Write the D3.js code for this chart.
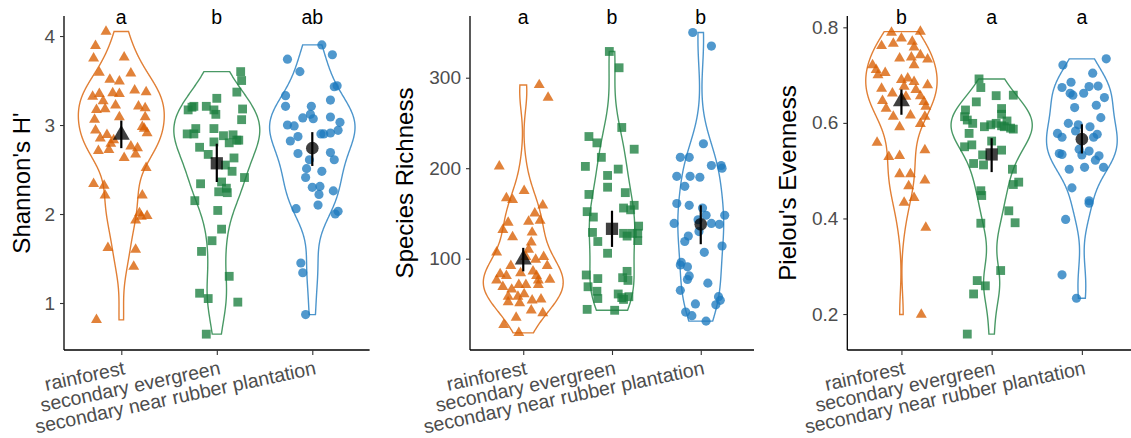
<!DOCTYPE html>
<html><head><meta charset="utf-8">
<script src="https://cdn.jsdelivr.net/npm/d3@7"></script>
<style>body{margin:0;background:#fff}svg{display:block}text{font-family:"Liberation Sans",Arial,sans-serif}</style>
</head><body><svg id="c" width="1131" height="438"></svg>
<script>
const groups = ["rainforest", "secondary evergreen", "secondary near rubber plantation"];
const colors = ["#D95F02", "#1B7F3F", "#1F7BBF"];

// Shannon's H'
const shRainVal = [4.05,3.89,3.75,3.76,3.59,3.51,3.49,3.58,3.39,3.37,3.32,3.35,3.36,3.35,3.27,3.22,3.21,3.19,3.17,3.18,3.09,3.06,3.09,2.98,2.96,2.94,2.91,2.85,2.89,2.83,2.72,2.71,2.76,2.74,2.67,2.63,2.79,2.52,2.34,2.32,2.21,2.21,2.01,1.98,1.93,1.97,1.62,1.60,1.41,0.81];
const shRainJit = [-0.16,-0.27,-0.29,0.03,-0.23,-0.12,-0.02,0.10,0.14,0.26,-0.30,-0.23,-0.09,-0.02,-0.19,-0.06,0.18,0.25,-0.26,-0.17,-0.02,-0.28,0.25,0.22,0.24,-0.27,0.27,-0.22,-0.15,-0.08,-0.13,-0.24,0.10,0.17,0.15,0.03,-0.11,0.26,-0.29,-0.18,-0.17,0.22,0.19,0.27,0.15,0.21,-0.14,0.15,0.13,-0.26];
const shEverVal = [3.60,3.50,3.37,3.30,3.17,3.20,3.21,3.21,3.17,3.12,3.18,3.06,2.96,2.90,2.90,2.96,2.88,2.89,2.83,2.80,2.83,2.81,2.75,2.67,2.63,2.55,2.48,2.41,2.34,2.36,2.25,2.29,2.24,2.15,2.04,1.83,1.70,1.58,1.30,1.11,1.05,1.01,0.65];
const shEverJit = [0.25,0.26,0.21,0.00,-0.30,-0.26,-0.24,-0.11,-0.03,-0.01,0.27,0.26,-0.22,-0.31,-0.24,-0.03,0.07,0.17,0.21,0.13,0.23,-0.03,-0.18,-0.09,0.18,0.09,0.16,0.29,-0.17,0.05,0.02,0.10,0.11,-0.23,0.01,0.05,-0.05,-0.16,0.13,-0.18,-0.09,0.22,-0.11];
const shRubVal = [3.90,3.79,3.74,3.60,3.43,3.44,3.33,3.28,3.21,3.21,3.12,3.08,3.07,3.09,3.00,2.99,3.03,2.94,2.90,2.90,2.91,2.87,2.82,2.69,2.68,2.61,2.61,2.51,2.48,2.41,2.30,2.31,2.22,2.26,2.10,2.03,2.00,2.06,1.45,1.34,0.87];
const shRubJit = [0.10,0.21,-0.26,-0.13,0.23,0.26,-0.28,0.19,-0.28,-0.01,-0.02,-0.10,0.01,0.19,-0.26,-0.19,0.29,0.27,0.09,0.12,0.19,-0.15,-0.23,0.19,-0.15,0.23,-0.03,-0.06,0.10,-0.07,0.00,0.08,0.07,0.22,0.06,0.27,0.24,-0.17,-0.12,-0.10,-0.07];
const shMean = [2.89, 2.57, 2.74];
const shLow = [2.74, 2.36, 2.54];
const shHigh = [3.05, 2.79, 2.92];
const shLetters = ["a", "b", "ab"];
const shTicks = [1, 2, 3, 4];

// Species Richness
const srRainVal = [292,278,202,175,167,165,159,150,142,141,140,132,124,129,107,118,110,99,102,92,92,83,81,81,77,76,69,66,71,71,71,58,58,61,54,55,51,52,43,40,35,27,18,102,84,86,76];
const srRainJit = [0.18,0.28,-0.27,0.01,-0.19,-0.12,0.22,0.13,0.19,0.06,-0.17,-0.23,-0.12,0.10,-0.30,0.09,0.06,0.14,0.23,0.27,-0.14,-0.26,-0.19,0.15,0.30,-0.30,-0.23,-0.13,-0.05,0.03,0.17,-0.17,-0.06,0.01,0.10,0.20,-0.04,-0.17,0.09,0.22,-0.08,-0.22,-0.05,0.03,-0.03,0.11,0.17];
const srEverVal = [329,311,245,235,228,221,212,202,199,192,179,171,173,152,146,156,154,159,136,129,119,128,125,128,120,106,82,78,69,64,56,86,76,79,61,57,58,44,43,55,128];
const srEverJit = [-0.03,0.08,0.11,-0.26,-0.17,0.25,-0.12,-0.30,0.07,-0.05,-0.05,-0.26,0.15,-0.28,-0.21,0.13,0.21,0.25,0.30,-0.22,-0.16,0.13,0.17,0.23,0.29,-0.05,-0.29,-0.16,-0.27,-0.17,-0.16,0.17,0.18,0.12,0.07,0.11,0.19,-0.28,0.03,0.13,0.29];
const srRubVal = [350,335,227,212,212,203,203,200,191,191,190,180,161,159,156,148,148,139,139,138,130,125,119,114,107,96,93,91,81,77,73,65,58,54,49,50,41,37,31,143];
const srRubJit = [-0.09,0.12,0.03,-0.23,-0.13,0.12,0.23,0.24,-0.27,-0.12,-0.01,-0.18,-0.27,-0.13,0.02,0.06,0.27,-0.30,0.12,0.21,-0.02,-0.14,-0.18,0.24,0.04,-0.22,-0.23,-0.15,-0.13,-0.15,0.08,-0.23,0.20,0.22,0.17,-0.06,-0.17,-0.10,0.06,-0.03];
const srMean = [99, 133, 138];
const srLow = [86, 113, 116];
const srHigh = [112, 153, 159];
const srLetters = ["a", "b", "b"];
const srTicks = [100, 200, 300];

// Pielou's Evenness
const peRainVal = [0.789,0.791,0.777,0.766,0.770,0.761,0.758,0.735,0.737,0.742,0.733,0.721,0.711,0.705,0.700,0.721,0.690,0.693,0.686,0.679,0.672,0.662,0.669,0.656,0.646,0.644,0.630,0.634,0.616,0.613,0.613,0.591,0.598,0.559,0.543,0.529,0.531,0.493,0.493,0.480,0.468,0.443,0.433,0.381,0.199,0.655,0.676];
const peRainJit = [-0.11,0.21,0.00,-0.09,0.12,-0.22,0.14,-0.02,0.11,0.21,0.29,-0.32,-0.28,-0.18,-0.26,0.14,0.00,0.07,0.14,0.29,-0.22,-0.10,0.16,0.21,-0.21,0.25,-0.17,0.27,0.10,-0.09,0.26,-0.02,0.21,-0.27,0.26,-0.14,-0.02,-0.02,0.10,0.26,0.08,0.14,0.03,0.27,0.22,0.05,0.03];
const peEverVal = [0.692,0.674,0.657,0.658,0.644,0.627,0.630,0.613,0.618,0.599,0.606,0.592,0.596,0.599,0.594,0.604,0.589,0.587,0.592,0.578,0.562,0.554,0.550,0.543,0.533,0.515,0.512,0.503,0.471,0.476,0.458,0.448,0.416,0.391,0.390,0.291,0.270,0.259,0.242,0.158];
const peEverJit = [-0.14,-0.12,0.05,0.24,-0.17,-0.29,0.11,-0.30,0.11,-0.21,-0.27,-0.08,-0.01,0.05,0.11,0.17,0.21,0.24,0.14,-0.25,0.00,-0.22,-0.30,0.11,-0.10,-0.20,-0.09,0.23,0.24,0.30,-0.12,-0.11,0.19,0.26,-0.12,0.10,-0.16,-0.07,-0.20,-0.27];
const peRubVal = [0.734,0.721,0.704,0.685,0.674,0.676,0.677,0.662,0.658,0.662,0.653,0.637,0.632,0.611,0.599,0.596,0.592,0.578,0.583,0.570,0.570,0.576,0.536,0.534,0.545,0.541,0.533,0.531,0.522,0.503,0.507,0.507,0.464,0.437,0.432,0.398,0.282,0.233];
const peRubJit = [0.27,-0.21,0.12,-0.12,-0.22,0.08,0.18,-0.13,-0.10,0.02,0.25,0.16,-0.08,0.21,-0.15,-0.04,0.09,-0.27,-0.07,-0.22,0.13,0.17,-0.25,-0.22,-0.03,0.08,0.00,0.19,0.15,-0.14,0.03,0.24,-0.11,0.08,0.08,-0.18,-0.22,-0.06];
const peMean = [0.645, 0.534, 0.566];
const peLow = [0.617, 0.497, 0.536];
const peHigh = [0.670, 0.568, 0.597];
const peLetters = ["b", "a", "a"];
const peTicks = [0.2, 0.4, 0.6, 0.8];

const panels = [
  {title: "Shannon's H'", left: 64, right: 369.6, domain: [0.472, 4.225], ticks: shTicks, fmt: d3.format("d"), titleX: 22,
   vals: [shRainVal, shEverVal, shRubVal], jits: [shRainJit, shEverJit, shRubJit], mean: shMean, lo: shLow, hi: shHigh, letters: shLetters},
  {title: "Species Richness", left: 470, right: 754, domain: [-0.9, 368.2], ticks: srTicks, fmt: d3.format("d"), titleX: 405,
   vals: [srRainVal, srEverVal, srRubVal], jits: [srRainJit, srEverJit, srRubJit], mean: srMean, lo: srLow, hi: srHigh, letters: srLetters},
  {title: "Pielou's Evenness", left: 847.3, right: 1136, domain: [0.1247, 0.8237], ticks: peTicks, fmt: d3.format(".1f"), titleX: 788,
   vals: [peRainVal, peEverVal, peRubVal], jits: [peRainJit, peEverJit, peRubJit], mean: peMean, lo: peLow, hi: peHigh, letters: peLetters}
];

const TOP = 16, BOT = 350;
const svg = d3.select("#c");
const shapes = [d3.symbolTriangle, d3.symbolSquare, d3.symbolCircle];
const ptSize = [52, 78, 66];
const meanSize = [125, 150, 125];

function bwNrd0(v) {
  const s = v.slice().sort(d3.ascending);
  const sd = d3.deviation(s);
  const iqr = d3.quantile(s, 0.75) - d3.quantile(s, 0.25);
  const lo = Math.min(sd, iqr / 1.34);
  return 0.9 * lo * Math.pow(s.length, -0.2);
}
function kde(v) {
  const h = bwNrd0(v), n = v.length;
  const mn = d3.min(v), mx = d3.max(v);
  const grid = d3.range(512).map(i => mn + (mx - mn) * i / 511);
  const c = 1 / (n * h * Math.sqrt(2 * Math.PI));
  return grid.map(t => ({t, d: c * d3.sum(v, xi => Math.exp(-0.5 * ((t - xi) / h) ** 2))}));
}

panels.forEach(p => {
  const g = svg.append("g");
  const x = d3.scaleLinear().domain([0.4, 3.6]).range([p.left, p.right]);
  const step = x(1) - x(0);
  const y = d3.scaleLinear().domain(p.domain).range([BOT, TOP]);

  // violins
  const dens = p.vals.map(kde);
  const maxD = d3.max(dens, ds => d3.max(ds, e => e.d));
  dens.forEach((ds, i) => {
    const cx = x(i + 1), hw = 0.45 * step;
    const area = d3.area().curve(d3.curveLinear)
      .y(e => y(e.t)).x0(e => cx - hw * e.d / maxD).x1(e => cx + hw * e.d / maxD);
    g.append("path").attr("d", area(ds)).attr("fill", "none")
      .attr("stroke", colors[i]).attr("stroke-opacity", 0.8).attr("stroke-width", 1.4);
  });

  // jittered points
  p.vals.forEach((vs, i) => {
    const cx = x(i + 1);
    const sym = d3.symbol().type(shapes[i]).size(ptSize[i]);
    vs.forEach((v, k) => {
      g.append("path").attr("d", sym())
        .attr("transform", `translate(${cx + p.jits[i][k] * step},${y(v)})`)
        .attr("fill", colors[i]).attr("fill-opacity", 0.78);
    });
  });

  // means and error bars
  p.mean.forEach((m, i) => {
    const cx = x(i + 1);
    g.append("line").attr("x1", cx).attr("x2", cx).attr("y1", y(p.lo[i])).attr("y2", y(p.hi[i]))
      .attr("stroke", "#000").attr("stroke-width", 2.2);
    g.append("path").attr("d", d3.symbol().type(shapes[i]).size(meanSize[i])())
      .attr("transform", `translate(${cx},${y(m)})`).attr("fill", "#000").attr("fill-opacity", 0.75);
  });

  // letters
  p.letters.forEach((l, i) => {
    g.append("text").attr("x", x(i + 1)).attr("y", 24).attr("text-anchor", "middle")
      .attr("font-size", 19.5).attr("fill", "#000").text(l);
  });

  // axes
  const ya = g.append("g").attr("transform", `translate(${p.left},0)`)
    .call(d3.axisLeft(y).tickValues(p.ticks).tickFormat(p.fmt).tickSize(4).tickPadding(5).tickSizeOuter(0));
  ya.select(".domain").attr("d", `M0,${TOP}V${BOT}`).attr("stroke", "#000").attr("stroke-width", 1.3);
  ya.selectAll(".tick line").attr("stroke", "#333").attr("stroke-width", 1.1);
  ya.selectAll(".tick text").attr("font-size", 19).attr("fill", "#4D4D4D").attr("font-family", "Liberation Sans, Arial, sans-serif");

  const xa = g.append("g").attr("transform", `translate(0,${BOT})`)
    .call(d3.axisBottom(x).tickValues([1, 2, 3]).tickFormat(i => groups[i - 1]).tickSize(5).tickSizeOuter(0));
  xa.select(".domain").attr("d", `M${p.left},0H${p.right}`).attr("stroke", "#000").attr("stroke-width", 1.3);
  xa.selectAll(".tick line").attr("stroke", "#333").attr("stroke-width", 1.1);
  xa.selectAll(".tick text").attr("font-size", 19.5).attr("fill", "#4D4D4D")
    .attr("font-family", "Liberation Sans, Arial, sans-serif")
    .attr("text-anchor", "end").attr("y", 0).attr("dy", 0)
    .attr("transform", "translate(4,24) rotate(-12)");

  g.append("text").attr("transform", `translate(${p.titleX},${(TOP + BOT) / 2}) rotate(-90)`)
    .attr("text-anchor", "middle").attr("dy", "0.35em").attr("font-size", 24).attr("fill", "#000").text(p.title);
});
</script></body></html>
